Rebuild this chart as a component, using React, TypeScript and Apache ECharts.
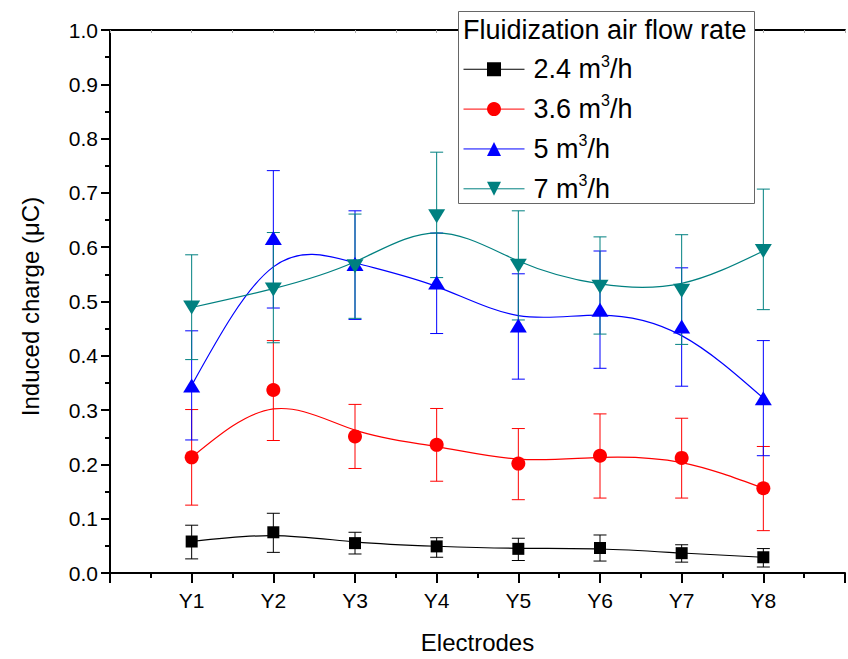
import React, { useEffect, useRef } from 'react';
import * as echarts from 'echarts';

const categories = ['Y1', 'Y2', 'Y3', 'Y4', 'Y5', 'Y6', 'Y7', 'Y8'];
const yTickValues = [0, 0.1, 0.2, 0.3, 0.4, 0.5, 0.6, 0.7, 0.8, 0.9, 1.0];

const charge24 = [0.058, 0.075, 0.055, 0.049, 0.0445, 0.046, 0.0365, 0.029];
const err24Low = [0.026, 0.038, 0.035, 0.029, 0.023, 0.022, 0.02, 0.011];
const err24High = [0.088, 0.11, 0.075, 0.065, 0.064, 0.07, 0.052, 0.045];

const charge36 = [0.213, 0.337, 0.2515, 0.236, 0.2015, 0.216, 0.212, 0.156];
const err36Low = [0.125, 0.244, 0.1925, 0.169, 0.135, 0.138, 0.138, 0.078];
const err36High = [0.301, 0.428, 0.3105, 0.303, 0.266, 0.293, 0.285, 0.233];

const charge5 = [0.3455, 0.617, 0.569, 0.535, 0.456, 0.485, 0.454, 0.322];
const err5Low = [0.245, 0.488, 0.467, 0.441, 0.357, 0.377, 0.344, 0.216];
const err5High = [0.446, 0.741, 0.667, 0.626, 0.551, 0.593, 0.562, 0.428];

const charge7 = [0.489, 0.522, 0.565, 0.657, 0.566, 0.527, 0.52, 0.593];
const err7Low = [0.393, 0.424, 0.469, 0.544, 0.466, 0.44, 0.421, 0.485];
const err7High = [0.586, 0.627, 0.661, 0.775, 0.667, 0.619, 0.623, 0.707];

const legendTitle = 'Fluidization air flow rate';
const flowRates = ['2.4', '3.6', '5', '7'];

const FONT = "'Liberation Sans', Arial, sans-serif";

const groups = [
  { rate: flowRates[0], color: '#000000', symbol: 'rect', size: 12, rotate: 0, values: charge24, low: err24Low, high: err24High },
  { rate: flowRates[1], color: '#ff0000', symbol: 'circle', size: 14, rotate: 0, values: charge36, low: err36Low, high: err36High },
  { rate: flowRates[2], color: '#0000ff', symbol: 'triangle', size: [17, 14], rotate: 0, values: charge5, low: err5Low, high: err5High },
  { rate: flowRates[3], color: '#008080', symbol: 'triangle', size: [17, 14], rotate: 180, values: charge7, low: err7Low, high: err7High },
];

const seriesName = (rate: string) => `${rate} m3/h`;

function buildOption() {
  const series: any[] = [];
  groups.forEach((g) => {
    const name = seriesName(g.rate);
    const pts = g.values.map((v, i) => [i + 1, v]);
    // B-spline connection (data points are the control points)
    series.push({
      type: 'custom',
      name: name + ' curve',
      silent: true,
      z: 2,
      data: pts,
      encode: { x: 0, y: 1 },
      renderItem: (params: any, api: any) => {
        const i = params.dataIndex;
        const n = g.values.length;
        if (i >= n - 1) return { type: 'group', children: [] };
        const P = (k: number): number[] => {
          if (k < 0) {
            const a = api.coord([1, g.values[0]]);
            const b = api.coord([2, g.values[1]]);
            return [2 * a[0] - b[0], 2 * a[1] - b[1]];
          }
          if (k > n - 1) {
            const a = api.coord([n, g.values[n - 1]]);
            const b = api.coord([n - 1, g.values[n - 2]]);
            return [2 * a[0] - b[0], 2 * a[1] - b[1]];
          }
          return api.coord([k + 1, g.values[k]]);
        };
        const p0 = P(i - 1), p1 = P(i), p2 = P(i + 1), p3 = P(i + 2);
        const s = [(p0[0] + 4 * p1[0] + p2[0]) / 6, (p0[1] + 4 * p1[1] + p2[1]) / 6];
        const c1 = [(2 * p1[0] + p2[0]) / 3, (2 * p1[1] + p2[1]) / 3];
        const c2 = [(p1[0] + 2 * p2[0]) / 3, (p1[1] + 2 * p2[1]) / 3];
        const e = [(p1[0] + 4 * p2[0] + p3[0]) / 6, (p1[1] + 4 * p2[1] + p3[1]) / 6];
        return {
          type: 'bezierCurve',
          shape: { x1: s[0], y1: s[1], cpx1: c1[0], cpy1: c1[1], cpx2: c2[0], cpy2: c2[1], x2: e[0], y2: e[1] },
          style: { stroke: g.color, lineWidth: 1.2, fill: 'none' },
        };
      },
    });
    // error bars
    series.push({
      type: 'custom',
      name: name + ' error',
      silent: true,
      z: 2,
      data: g.values.map((_, i) => [i + 1, g.low[i], g.high[i]]),
      encode: { x: 0, y: [1, 2] },
      renderItem: (params: any, api: any) => {
        const x = api.value(0);
        const lo = api.coord([x, api.value(1)]);
        const hi = api.coord([x, api.value(2)]);
        const cap = 6.5;
        const st = { stroke: g.color, lineWidth: 1 };
        return {
          type: 'group',
          children: [
            { type: 'line', shape: { x1: lo[0], y1: lo[1], x2: hi[0], y2: hi[1] }, style: st },
            { type: 'line', shape: { x1: lo[0] - cap, y1: lo[1], x2: lo[0] + cap, y2: lo[1] }, style: st },
            { type: 'line', shape: { x1: hi[0] - cap, y1: hi[1], x2: hi[0] + cap, y2: hi[1] }, style: st },
          ],
        };
      },
    });
  });
  groups.forEach((g) => {
    series.push({
      type: 'line',
      name: seriesName(g.rate),
      z: 3,
      data: g.values.map((v, i) => [i + 1, v]),
      symbol: g.symbol,
      symbolSize: g.size,
      symbolRotate: g.rotate,
      showSymbol: true,
      itemStyle: { color: g.color, borderWidth: 0 },
      lineStyle: { opacity: 0, width: 0, color: g.color },
      emphasis: { disabled: true },
    });
  });

  return {
    animation: false,
    backgroundColor: '#ffffff',
    textStyle: { fontFamily: FONT },
    grid: { left: 110, top: 30, width: 745, height: 547.7 },
    xAxis: [
      {
        type: 'value',
        min: 0,
        max: 9,
        interval: 1,
        name: 'Electrodes',
        nameLocation: 'middle',
        nameGap: 57,
        nameTextStyle: { fontSize: 24, color: '#000', fontFamily: FONT },
        axisLine: { show: true, onZero: false, lineStyle: { color: '#000', width: 2 } },
        axisTick: { show: true, inside: false, length: 10, lineStyle: { color: '#000', width: 2 } },
        minorTick: { show: true, splitNumber: 2, length: 5, lineStyle: { color: '#000', width: 2 } },
        axisLabel: {
          fontSize: 21,
          color: '#000',
          margin: 17,
          fontFamily: FONT,
          formatter: (v: number) => (v >= 1 && v <= categories.length ? categories[v - 1] : ''),
        },
        splitLine: { show: false },
      },
      {
        type: 'value',
        position: 'top',
        min: 0,
        max: 9,
        interval: 0.5,
        axisLine: { show: true, onZero: false, lineStyle: { color: '#000', width: 2 } },
        axisTick: { show: true, inside: true, length: 3, lineStyle: { color: '#aaa', width: 1 } },
        axisLabel: { show: false },
        splitLine: { show: false },
      },
    ],
    yAxis: {
      type: 'value',
      min: 0,
      max: 1,
      interval: 0.1,
      name: 'Induced charge (\u03bcC)',
      nameLocation: 'middle',
      nameGap: 68,
      nameTextStyle: { fontSize: 24, color: '#000', fontFamily: FONT, padding: [0, 10, 0, 0] },
      axisLine: { show: true, onZero: false, lineStyle: { color: '#000', width: 2 } },
      axisTick: { show: true, inside: false, length: 9, lineStyle: { color: '#000', width: 2 } },
      minorTick: { show: true, splitNumber: 2, length: 5, lineStyle: { color: '#000', width: 2 } },
      axisLabel: {
        fontSize: 21,
        color: '#000',
        margin: 12,
        fontFamily: FONT,
        formatter: (v: number) => {
          const t = yTickValues.find((y) => Math.abs(y - v) < 1e-9);
          return t === undefined ? '' : t.toFixed(1);
        },
      },
      splitLine: { show: false },
    },
    graphic: [
      {
        type: 'rect',
        z: 50,
        shape: { x: 458.5, y: 11.5, width: 296, height: 192 },
        style: { fill: '#ffffff', stroke: '#666666', lineWidth: 1 },
      },
      {
        type: 'text',
        z: 51,
        x: 463,
        y: 30,
        style: { text: legendTitle, fontSize: 27, fontFamily: FONT, fill: '#000', verticalAlign: 'middle', align: 'left' },
      },
    ],
    legend: {
      orient: 'vertical',
      left: 463,
      top: 53,
      padding: 0,
      z: 60,
      itemWidth: 61,
      itemHeight: 17.5,
      itemGap: 10.1,
      selectedMode: false,
      data: groups.map((g) => ({
        name: seriesName(g.rate),
        itemStyle: { color: g.color, borderWidth: 0 },
        lineStyle: { color: g.color, width: 1, opacity: 1, type: 'solid' },
      })),
      formatter: (name: string) => {
        const g = groups.find((gg) => seriesName(gg.rate) === name);
        return `{m|${g ? g.rate : name} m}{s|3}{m|/h}`;
      },
      textStyle: {
        color: '#000',
        fontFamily: FONT,
        padding: [0, 0, 0, 4],
        rich: {
          m: { fontSize: 27, lineHeight: 32.5, color: '#000', fontFamily: FONT },
          s: { fontSize: 16, lineHeight: 17, verticalAlign: 'top', color: '#000', fontFamily: FONT },
        },
      },
    },
    series,
  };
}

export default function App() {
  const ref = useRef<HTMLDivElement>(null);
  useEffect(() => {
    if (!ref.current) return;
    const chart = echarts.init(ref.current, undefined, { renderer: 'svg' });
    chart.setOption(buildOption() as any);
    return () => chart.dispose();
  }, []);
  return (
    <div
      ref={ref}
      style={{ position: 'fixed', left: 0, top: 0, width: 848, height: 659, background: '#fff' }}
    />
  );
}
